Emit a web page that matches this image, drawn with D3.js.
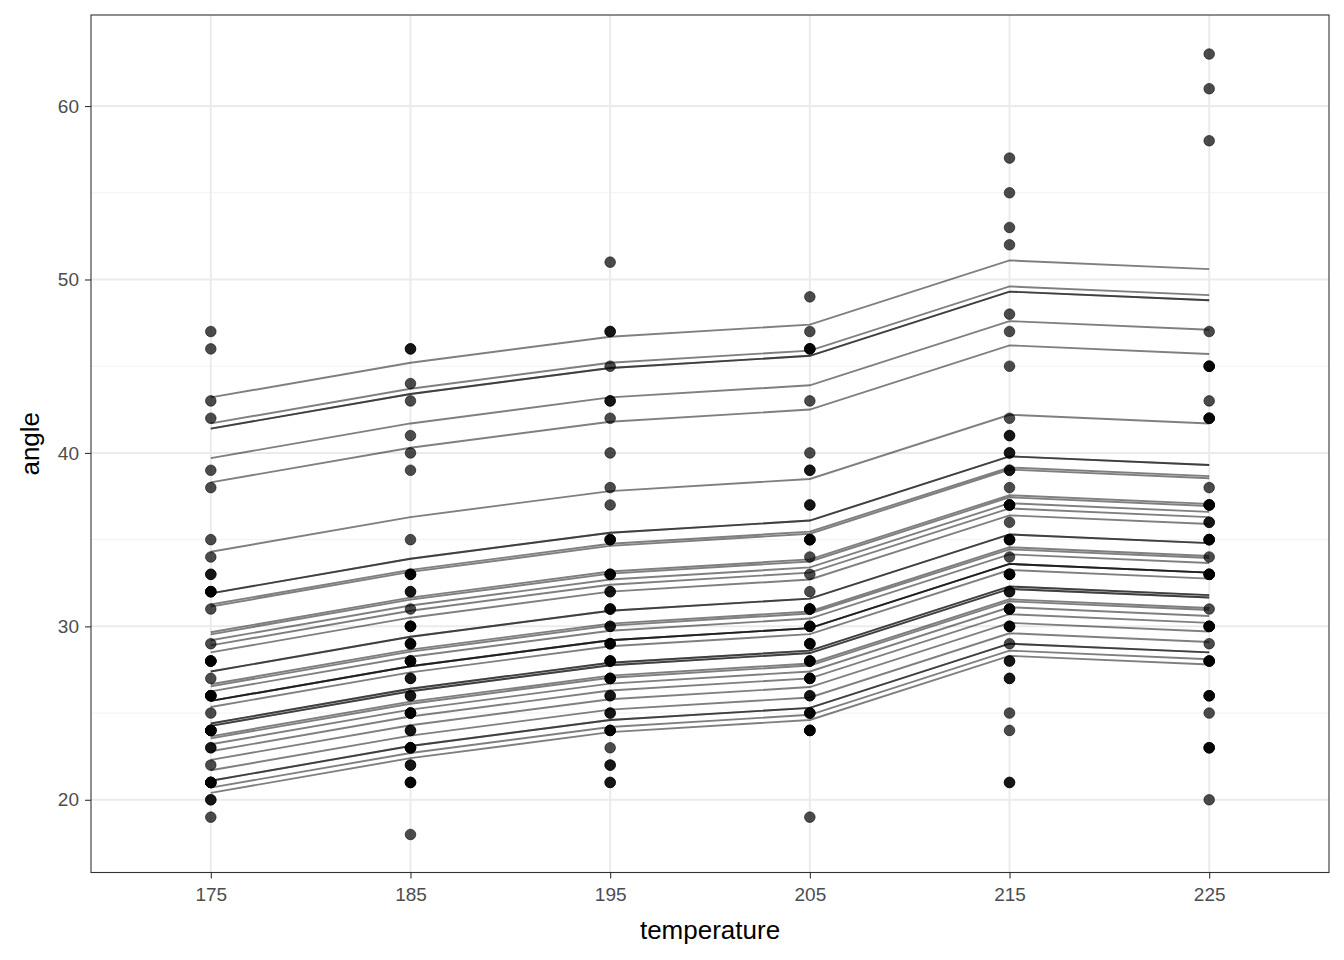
<!DOCTYPE html>
<html>
<head>
<meta charset="utf-8">
<script src="https://cdn.jsdelivr.net/npm/d3@7"></script>
<style>
  body { margin: 0; background: #fff; }
  svg text { font-family: "Liberation Sans", Arial, sans-serif; }
</style>
</head>
<body>
<svg width="1344" height="960"></svg>
<script>
// categories on the x axis
var temperatures = ["175", "185", "195", "205", "215", "225"];
var yTicks = [20, 30, 40, 50, 60];

// observed angles at each temperature (one value per cake)
var angle175 = [47, 46, 43, 42, 39, 38, 35, 34, 33, 33, 32, 32, 32, 32, 31, 29, 28, 28, 28, 28, 28, 27,
  26, 26, 26, 26, 26, 25, 24, 24, 24, 24, 24, 24, 23, 23, 22, 21, 21, 21, 21, 21, 20, 20, 19];
var angle185 = [46, 46, 44, 43, 41, 40, 39, 35, 33, 33, 33, 32, 32, 31, 30, 30, 30, 30, 29, 29, 29,
  28, 28, 28, 28, 27, 27, 26, 26, 25, 25, 25, 25, 24, 24, 23, 23, 23, 23, 22, 22, 21, 21, 21, 18];
var angle195 = [51, 47, 47, 45, 43, 43, 42, 40, 38, 37, 35, 35, 35, 33, 33, 33, 32, 32, 31, 31, 31,
  30, 30, 29, 29, 29, 28, 28, 28, 28, 27, 27, 27, 26, 26, 25, 25, 24, 24, 24, 23, 22, 22, 21, 21];
var angle205 = [49, 47, 46, 46, 46, 43, 40, 39, 39, 37, 37, 35, 35, 35, 35, 34, 33, 32, 31, 31, 31, 31,
  30, 30, 30, 29, 29, 29, 28, 28, 28, 28, 27, 27, 27, 26, 26, 25, 25, 25, 24, 24, 24, 24, 19];
var angle215 = [57, 55, 53, 52, 48, 47, 45, 42, 41, 41, 40, 40, 39, 39, 38, 37, 37, 37, 37, 36, 35, 35, 35,
  34, 33, 33, 33, 33, 32, 32, 31, 31, 31, 30, 30, 30, 29, 28, 28, 27, 27, 25, 24, 21, 21];
var angle225 = [63, 61, 58, 47, 45, 45, 45, 43, 42, 42, 42, 38, 37, 37, 37, 37, 36, 36, 35, 35, 35, 35,
  34, 33, 33, 33, 33, 31, 30, 30, 30, 30, 29, 28, 28, 28, 28, 26, 26, 26, 25, 23, 23, 23, 20];
var observed = [angle175, angle185, angle195, angle205, angle215, angle225];

// fitted curves, one per cake group (values at 175 ... 225)
var fitted = [
  [43.2, 45.2, 46.7, 47.4, 51.1, 50.6],
  [41.7, 43.7, 45.2, 45.9, 49.6, 49.1],
  [41.4, 43.4, 44.9, 45.6, 49.3, 48.8],
  [41.4, 43.4, 44.9, 45.6, 49.3, 48.8],
  [39.7, 41.7, 43.2, 43.9, 47.6, 47.1],
  [38.3, 40.3, 41.8, 42.5, 46.2, 45.7],
  [34.3, 36.3, 37.8, 38.5, 42.2, 41.7],
  [31.9, 33.9, 35.4, 36.1, 39.8, 39.3],
  [31.9, 33.9, 35.4, 36.1, 39.8, 39.3],
  [31.26, 33.26, 34.76, 35.46, 39.16, 38.66],
  [31.14, 33.14, 34.64, 35.34, 39.04, 38.54],
  [29.66, 31.66, 33.16, 33.86, 37.56, 37.06],
  [29.54, 31.54, 33.04, 33.74, 37.44, 36.94],
  [29.2, 31.2, 32.7, 33.4, 37.1, 36.6],
  [28.9, 30.9, 32.4, 33.1, 36.8, 36.3],
  [28.5, 30.5, 32.0, 32.7, 36.4, 35.9],
  [27.4, 29.4, 30.9, 31.6, 35.3, 34.8],
  [27.4, 29.4, 30.9, 31.6, 35.3, 34.8],
  [26.66, 28.66, 30.16, 30.86, 34.56, 34.06],
  [26.54, 28.54, 30.04, 30.74, 34.44, 33.94],
  [26.25, 28.25, 29.75, 30.45, 34.15, 33.65],
  [25.7, 27.7, 29.2, 29.9, 33.6, 33.1],
  [25.7, 27.7, 29.2, 29.9, 33.6, 33.1],
  [25.7, 27.7, 29.2, 29.9, 33.6, 33.1],
  [25.35, 27.35, 28.85, 29.55, 33.25, 32.75],
  [24.4, 26.4, 27.9, 28.6, 32.3, 31.8],
  [24.4, 26.4, 27.9, 28.6, 32.3, 31.8],
  [24.26, 26.26, 27.76, 28.46, 32.16, 31.66],
  [24.26, 26.26, 27.76, 28.46, 32.16, 31.66],
  [23.66, 25.66, 27.16, 27.86, 31.56, 31.06],
  [23.54, 25.54, 27.04, 27.74, 31.44, 30.94],
  [23.2, 25.2, 26.7, 27.4, 31.1, 30.6],
  [22.8, 24.8, 26.3, 27.0, 30.7, 30.2],
  [22.3, 24.3, 25.8, 26.5, 30.2, 29.7],
  [21.7, 23.7, 25.2, 25.9, 29.6, 29.1],
  [21.1, 23.1, 24.6, 25.3, 29.0, 28.5],
  [21.1, 23.1, 24.6, 25.3, 29.0, 28.5],
  [20.7, 22.7, 24.2, 24.9, 28.6, 28.1],
  [20.4, 22.4, 23.9, 24.6, 28.3, 27.8]
];

var svg = d3.select("svg");
var panelLeft = 91, panelRight = 1329, panelTop = 15, panelBottom = 872.5;

var xScale = d3.scalePoint().domain(temperatures).range([panelLeft, panelRight]).padding(0.6);
var yScale = d3.scaleLinear().domain([15.75, 65.25]).range([873.5, 15]);

// grid
var grid = svg.append("g");
var minor = d3.range(25, 65, 10);
grid.selectAll(".minor").data(minor).enter().append("line")
  .attr("x1", panelLeft).attr("x2", panelRight)
  .attr("y1", function(d) { return yScale(d); })
  .attr("y2", function(d) { return yScale(d); })
  .attr("stroke", "#f2f2f2").attr("stroke-width", 1);
grid.selectAll(".majorY").data(yTicks).enter().append("line")
  .attr("x1", panelLeft).attr("x2", panelRight)
  .attr("y1", function(d) { return yScale(d); })
  .attr("y2", function(d) { return yScale(d); })
  .attr("stroke", "#ebebeb").attr("stroke-width", 2);
grid.selectAll(".majorX").data(temperatures).enter().append("line")
  .attr("y1", panelTop).attr("y2", panelBottom)
  .attr("x1", function(d) { return xScale(d); })
  .attr("x2", function(d) { return xScale(d); })
  .attr("stroke", "#ebebeb").attr("stroke-width", 2);

// fitted lines
var line = d3.line()
  .x(function(d, i) { return xScale(temperatures[i]); })
  .y(function(d) { return yScale(d); });

svg.append("g")
  .selectAll("path")
  .data(fitted)
  .enter()
  .append("path")
  .attr("d", line)
  .attr("fill", "none")
  .attr("stroke", "#000")
  .attr("stroke-opacity", 0.5)
  .attr("stroke-width", 1.9);

// points
var pts = [];
observed.forEach(function(vals, i) {
  vals.forEach(function(v) { pts.push([temperatures[i], v]); });
});
svg.append("g")
  .selectAll("circle")
  .data(pts)
  .enter()
  .append("circle")
  .attr("cx", function(d) { return xScale(d[0]); })
  .attr("cy", function(d) { return yScale(d[1]); })
  .attr("r", 5.3)
  .attr("fill", "#000")
  .attr("fill-opacity", 0.7)
  .attr("stroke", "#000")
  .attr("stroke-opacity", 0.7)
  .attr("stroke-width", 0.8);

// panel border
svg.append("rect")
  .attr("x", panelLeft).attr("y", panelTop)
  .attr("width", panelRight - panelLeft).attr("height", panelBottom - panelTop)
  .attr("fill", "none")
  .attr("stroke", "#333333").attr("stroke-width", 1.1);

// axes
var xAxis = svg.append("g")
  .attr("transform", "translate(0," + panelBottom + ")")
  .call(d3.axisBottom(xScale).tickSize(6).tickPadding(9));
var yAxis = svg.append("g")
  .attr("transform", "translate(" + panelLeft + ",0)")
  .call(d3.axisLeft(yScale).tickValues(yTicks).tickSize(6).tickPadding(6));

[xAxis, yAxis].forEach(function(a) {
  a.select(".domain").remove();
  a.selectAll(".tick line").attr("stroke", "#333333").attr("stroke-width", 1.1);
  a.selectAll(".tick text")
    .attr("fill", "#4d4d4d")
    .style("font-size", "19px");
});

// axis titles
svg.append("text")
  .attr("x", (panelLeft + panelRight) / 2)
  .attr("y", 939)
  .attr("text-anchor", "middle")
  .style("font-size", "26px")
  .text("temperature");

svg.append("text")
  .attr("text-anchor", "middle")
  .attr("transform", "translate(39," + (panelTop + panelBottom) / 2 + ")rotate(-90)")
  .style("font-size", "26px")
  .text("angle");
</script>
</body>
</html>
